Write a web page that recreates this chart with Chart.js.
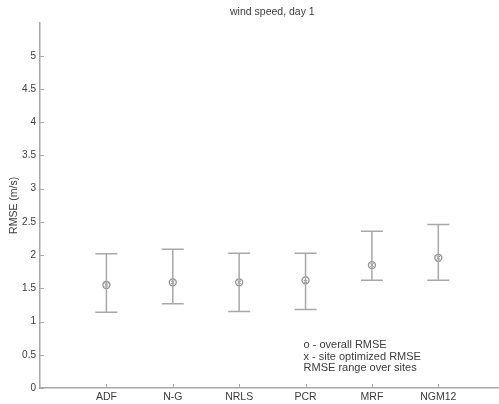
<!DOCTYPE html>
<html>
<head>
<meta charset="utf-8">
<script src="https://cdn.jsdelivr.net/npm/chart.js@4/dist/chart.umd.min.js"></script>
<style>
    html, body { margin: 0; padding: 0; background: #fff; overflow: hidden; }
    #wrap { width: 510px; height: 404px; position: relative; }
</style>
</head>
<body>
<div id="wrap"><canvas id="rmseChart"></canvas></div>
<script>
// Модели и значения RMSE (м/с), день 1
const models = ['ADF', 'N-G', 'NRLS', 'PCR', 'MRF', 'NGM12'];
const overallRmse = [1.55, 1.59, 1.59, 1.62, 1.85, 1.96];
const siteOptRmse = [1.55, 1.59, 1.59, 1.60, 1.85, 1.96];
const rangeLow = [1.14, 1.27, 1.15, 1.18, 1.62, 1.62];
const rangeHigh = [2.02, 2.09, 2.03, 2.03, 2.36, 2.46];
const yTicks = [0, 0.5, 1, 1.5, 2, 2.5, 3, 3.5, 4, 4.5, 5];
const legendLines = ['o - overall RMSE', 'x - site optimized RMSE', 'RMSE range over sites'];

const lineColor = '#a8a8a8';
const textColor = '#3c3c3c';
const fontFamily = '"Liberation Sans", Arial, sans-serif';

// Вертикальные отрезки "размаха" по станциям с засечками
const errorBars = {
    id: 'errorBars',
    afterDatasetsDraw(chart) {
        const {ctx, scales: {x, y}} = chart;
        ctx.save();
        ctx.strokeStyle = lineColor;
        ctx.lineWidth = 1.5;
        models.forEach((m, i) => {
            const px = x.getPixelForValue(i + 1);
            const top = y.getPixelForValue(rangeHigh[i]);
            const bot = y.getPixelForValue(rangeLow[i]);
            ctx.beginPath();
            ctx.moveTo(px, top); ctx.lineTo(px, bot);
            ctx.moveTo(px - 11, top); ctx.lineTo(px + 11, top);
            ctx.moveTo(px - 11, bot); ctx.lineTo(px + 11, bot);
            ctx.stroke();
        });
        ctx.restore();
    }
};

// Засечки внутрь области графика, как в Matlab
const innerTicks = {
    id: 'innerTicks',
    afterDraw(chart) {
        const {ctx, scales: {x, y}, chartArea} = chart;
        ctx.save();
        ctx.strokeStyle = lineColor;
        ctx.lineWidth = 1;
        ctx.beginPath();
        yTicks.forEach((v) => {
            const py = Math.round(y.getPixelForValue(v)) + 0.5;
            ctx.moveTo(chartArea.left, py); ctx.lineTo(chartArea.left + 4, py);
        });
        models.forEach((m, i) => {
            const px = Math.round(x.getPixelForValue(i + 1)) + 0.5;
            ctx.moveTo(px, chartArea.bottom); ctx.lineTo(px, chartArea.bottom - 4);
        });
        ctx.stroke();

        // подписи-пояснения
        ctx.fillStyle = textColor;
        ctx.font = '11px ' + fontFamily;
        ctx.textBaseline = 'middle';
        const lx = x.getPixelForValue(4) - 2;
        legendLines.forEach((t, i) => {
            ctx.fillText(t, lx, y.getPixelForValue(0.67) + 1.5 + i * 11.5);
        });
        ctx.restore();
    }
};

new Chart(document.getElementById('rmseChart'), {
    type: 'scatter',
    data: {
        datasets: [
            {
                label: 'overall RMSE',
                data: overallRmse.map((v, i) => ({x: i + 1, y: v})),
                pointStyle: 'circle',
                pointRadius: 3.5,
                borderColor: '#8e8e8e',
                backgroundColor: 'rgba(0,0,0,0)',
                borderWidth: 1.3,
            },
            {
                label: 'site optimized RMSE',
                data: siteOptRmse.map((v, i) => ({x: i + 1, y: v})),
                pointStyle: 'crossRot',
                pointRadius: 2.5,
                borderColor: '#8e8e8e',
                borderWidth: 1,
            }
        ]
    },
    options: {
        responsive: true,
        maintainAspectRatio: false,
        animation: false,
        layout: {padding: {left: 0, right: 0, top: 0, bottom: 0}},
        plugins: {
            legend: {display: false},
            tooltip: {enabled: false},
            title: {
                display: true,
                fullSize: false,
                text: 'wind speed, day 1',
                color: textColor,
                font: {family: fontFamily, size: 10.5, weight: 'normal'},
                padding: {top: 6, bottom: 4},
            }
        },
        scales: {
            x: {
                type: 'linear',
                min: 0,
                max: 7,
                afterBuildTicks: (scale) => {
                    scale.ticks = models.map((m, i) => ({value: i + 1}));
                },
                afterFit: (scale) => { scale.height = 16; },
                ticks: {
                    callback: (v) => models[v - 1] || '',
                    color: textColor,
                    font: {family: fontFamily, size: 10.5},
                    padding: 3,
                    maxRotation: 0,
                    autoSkip: false,
                },
                grid: {display: false, drawTicks: false},
                border: {display: true, color: lineColor, width: 1.5},
            },
            y: {
                min: 0,
                max: 5.5,
                afterBuildTicks: (scale) => {
                    scale.ticks = yTicks.map((v) => ({value: v}));
                },
                afterFit: (scale) => { scale.width = 40; },
                ticks: {
                    callback: (v) => String(v),
                    color: textColor,
                    font: {family: fontFamily, size: 10},
                    padding: 4,
                },
                grid: {display: false, drawTicks: false},
                border: {display: true, color: lineColor, width: 1.5},
                title: {
                    display: true,
                    text: 'RMSE (m/s)',
                    color: textColor,
                    font: {family: fontFamily, size: 10.5},
                    padding: {top: 8, bottom: 0},
                }
            }
        }
    },
    plugins: [errorBars, innerTicks]
});
</script>
</body>
</html>
